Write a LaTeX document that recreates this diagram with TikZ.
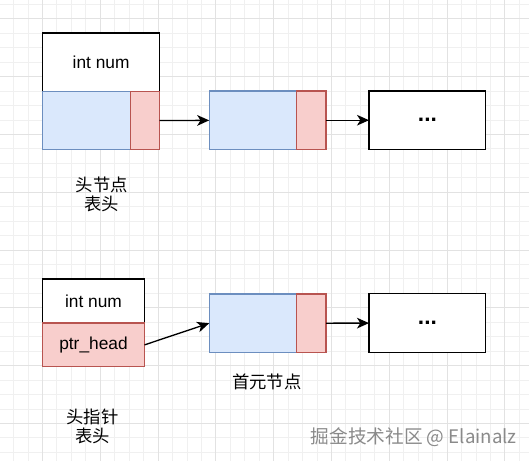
\documentclass[tikz,border=0pt]{standalone}
\usepackage{fontspec}
\setmainfont{Liberation Sans}
\newfontfamily\cjk{Noto Sans CJK SC}
\usetikzlibrary{arrows.meta, positioning}
\definecolor{datafill}{HTML}{DAE8FC}
\definecolor{dataline}{HTML}{6C8EBF}
\definecolor{ptrfill}{HTML}{F8CECC}
\definecolor{ptrline}{HTML}{B85450}
\definecolor{gridminor}{HTML}{F0F0F0}
\definecolor{gridmajor}{HTML}{E2E2E2}
\definecolor{wmgray}{HTML}{8A8A8A}

\begin{document}
\begin{tikzpicture}[x=0.75pt, y=-0.75pt,
  >={Stealth[length=9pt, width=8pt, inset=2.5pt]},
  cell/.style={draw, line width=1pt, inner sep=0pt, outer sep=0pt,
    minimum height=43.8pt, font=\fontsize{13}{15}\selectfont},
  numbox/.style={cell, draw=black, fill=white, minimum width=87.6pt},
  databox/.style={cell, draw=dataline, fill=datafill, minimum width=65.7pt},
  nextbox/.style={cell, draw=ptrline, fill=ptrfill, minimum width=21.9pt},
  ptrnumbox/.style={cell, draw=black, fill=white, minimum width=76.6pt, minimum height=32.9pt},
  ptrbox/.style={cell, draw=ptrline, fill=ptrfill, minimum width=76.6pt, minimum height=32.9pt},
  morebox/.style={cell, draw=black, fill=white, minimum width=87.6pt,
    font=\fontsize{17}{17}\selectfont\bfseries},
  link/.style={->, line width=1pt},
  caption/.style={font=\cjk\fontsize{13}{14.2}\selectfont, align=center}
]

\useasboundingbox (0,0) rectangle (529,461);

% Background grid
\begin{scope}
  \clip (0,0) rectangle (529,461);
  \fill[white] (0,0) rectangle (529,461);
  \foreach \gx in {13.6,28.05,...,529}
    \draw[gridminor, line width=0.7pt] (\gx,0) -- (\gx,461);
  \foreach \gy in {4.4,18.85,...,461}
    \draw[gridminor, line width=0.7pt] (0,\gy) -- (529,\gy);
  \foreach \gx in {-15.3,42.5,...,529}
    \draw[gridmajor, line width=0.7pt] (\gx,0) -- (\gx,461);
  \foreach \gy in {18.85,76.65,...,461}
    \draw[gridmajor, line width=0.7pt] (0,\gy) -- (529,\gy);
\end{scope}

% ========== Head node list ==========
\node[numbox] (headnum) at (101.1,62.2) {int num};
\node[databox, anchor=north west] (headdata) at (headnum.south west) {};
\node[nextbox, right=0pt of headdata] (headnext) {};

\node[databox] (firstdata) at (253,120.2) {};
\node[nextbox, right=0pt of firstdata] (firstnext) {};

\node[morebox] (moretop) at (427.4,120.2) {...};

\draw[link] (headnext) -- (firstdata);
\draw[link] (firstnext) -- (moretop);

\node[caption] (headcap) at (101.7,194.5) {头节点\\表头};

% ========== Head pointer list ==========
\node[ptrnumbox] (ptrnum) at (93.5,301) {int num};
\node[ptrbox, below=0pt of ptrnum] (ptrhead) {ptr\_head};

\node[databox] (elemdata) at (253,323.2) {};
\node[nextbox, right=0pt of elemdata] (elemnext) {};

\node[morebox] (morebot) at (427.4,323) {...};

\draw[link] (ptrhead.east) -- (elemdata.west);
\draw[link] (elemnext) -- (morebot);

\node[caption] (elemcap) at (266.7,382) {首元节点};
\node[caption] (ptrcap) at (92.5,426.5) {头指针\\表头};

% Watermark
\node[font=\cjk\fontsize{14}{14}\selectfont, text=wmgray, anchor=east, inner sep=0pt]
  (mark) at (517,436.7) {掘金技术社区 @ Elainalz};

\end{tikzpicture}
\end{document}
